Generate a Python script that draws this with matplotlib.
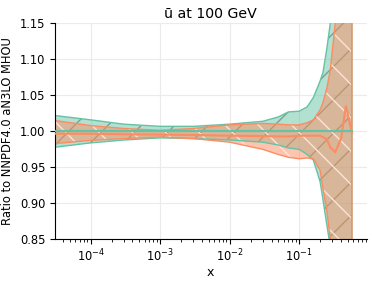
import matplotlib
matplotlib.use('Agg')
import matplotlib.pyplot as plt
import numpy as np

plt.rcParams.update({
    'font.size': 9,
    'axes.labelsize': 9,
    'axes.titlesize': 10.2,
    'xtick.labelsize': 8.3,
    'ytick.labelsize': 8.3,
    'xtick.major.pad': 2.5,
    'hatch.linewidth': 1.0,
})

green = '#66c2a5'
orange = '#fc8d62'

x = np.array([3.07e-5, 1e-4, 3e-4, 1e-3, 3e-3, 1e-2, 3e-2, 5e-2, 7e-2, 0.1,
              0.13, 0.16, 0.2, 0.22, 0.25, 0.28, 0.33, 0.4, 0.47, 0.573])

# reference fit (green)
ref_upper = np.array([1.022, 1.016, 1.010, 1.007, 1.007, 1.010, 1.014, 1.020, 1.027, 1.028,
                      1.034, 1.047, 1.070, 1.082, 1.115, 1.150, 1.25, 1.40, 1.50, 1.60])
ref_lower = np.array([0.978, 0.984, 0.988, 0.991, 0.990, 0.988, 0.985, 0.981, 0.977, 0.975,
                      0.968, 0.960, 0.930, 0.905, 0.870, 0.840, 0.75, 0.65, 0.60, 0.50])
ref_central = np.ones_like(x)

# compared fit (orange)
alt_upper = np.array([1.015, 1.008, 1.004, 1.0014, 1.004, 1.009, 1.011, 1.010, 1.009, 1.009,
                      1.012, 1.016, 1.030, 1.040, 1.060, 1.085, 1.15, 1.30, 1.50, 1.60])
alt_lower = np.array([0.983, 0.9875, 0.990, 0.992, 0.990, 0.985, 0.975, 0.968, 0.964, 0.962,
                      0.963, 0.962, 0.946, 0.920, 0.890, 0.850, 0.75, 0.65, 0.60, 0.50])
alt_central = np.array([0.9968, 0.9966, 0.996, 0.9955, 0.995, 0.994, 0.9935, 0.993, 0.993, 0.994,
                        0.994, 0.994, 0.994, 0.992, 0.989, 0.978, 0.971, 0.990, 1.035, 0.998])

fig = plt.figure(figsize=(3.74, 2.81), dpi=100)
ax = fig.add_axes([0.147, 0.148, 0.833, 0.769])


def draw_band(lo, hi, central, color, hatch, hatch_color):
    ax.fill_between(x, lo, hi, facecolor=color, alpha=0.5, linewidth=0, zorder=1)
    ax.fill_between(x, lo, hi, facecolor='none', edgecolor=hatch_color, hatch=hatch,
                    linewidth=0, zorder=1)
    ax.fill_between(x, lo, hi, facecolor='none', edgecolor=color, linewidth=1.0, zorder=2)
    ax.plot(x, central, color=color, linewidth=1.5, zorder=3)


draw_band(ref_lower, ref_upper, ref_central, green, '/', '#7f9f8a')
draw_band(alt_lower, alt_upper, alt_central, orange, '\\', '#fde3d6')
ax.plot(x, ref_central, color=green, linewidth=1.5, zorder=4)

ax.set_xscale('log')
ax.set_xlim(3.07e-5, 0.93)
ax.set_ylim(0.85, 1.15)
ax.set_yticks([0.85, 0.90, 0.95, 1.00, 1.05, 1.10, 1.15])
ax.grid(True, color='#ebebeb', linewidth=0.8)
ax.set_axisbelow(True)
ax.spines['top'].set_visible(False)
ax.spines['right'].set_visible(False)
ax.set_title('ū at 100 GeV', pad=4)
ax.set_xlabel('x', labelpad=1)
ax.set_ylabel('Ratio to NNPDF4.0 aN3LO MHOU', fontsize=8.3)

fig.savefig('out.png', dpi=100)
